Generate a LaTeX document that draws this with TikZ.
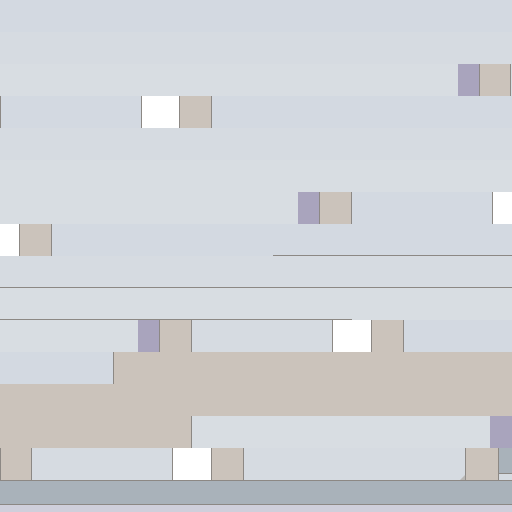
\documentclass[tikz,border=0pt]{standalone}
\definecolor{bgA}{HTML}{D3D9E1}
\definecolor{bgB}{HTML}{D6DBE1}
\definecolor{bgC}{HTML}{D8DDE2}
\definecolor{purp}{HTML}{A9A4BD}
\definecolor{beig}{HTML}{CBC3BB}
\definecolor{lnc}{HTML}{8C8884}
\definecolor{band}{HTML}{A9B2BA}
\definecolor{lav}{HTML}{CFCFDB}
\newcommand{\myrect}[5]{\fill[#1] (#2,#3) rectangle (#4,#5);}
\newcommand{\vl}[3]{\draw[sep] (#1,#2) -- (#1,#3);}
\newcommand{\hl}[3]{\draw[sep] (#1,#3) -- (#2,#3);}
\begin{document}
\begin{tikzpicture}[x=1pt,y=-1pt,sep/.style={draw=lnc,line width=1pt}]
\useasboundingbox (0,0) rectangle (512,512);
% row backgrounds
\myrect{bgA}{0}{0}{512}{32}
\myrect{bgB}{0}{32}{512}{64}
\myrect{bgC}{0}{64}{512}{96}
\myrect{bgA}{0}{96}{512}{128}
\myrect{bgB}{0}{128}{512}{160}
\myrect{bgC}{0}{160}{512}{192}
\myrect{bgC}{0}{192}{512}{224}
\myrect{bgA}{0}{224}{512}{256}
\myrect{bgB}{0}{256}{512}{288}
\myrect{bgC}{0}{288}{512}{320}
\myrect{bgC}{0}{320}{512}{352}
\myrect{bgA}{0}{352}{512}{384}
\myrect{beig}{0}{384}{512}{416}
\myrect{bgC}{0}{416}{512}{448}
\myrect{bgB}{0}{448}{512}{480}
\myrect{band}{0}{480}{512}{505}
\myrect{lav}{0}{505}{512}{512}
% row 2
\myrect{purp}{458}{64}{480}{96}
\myrect{beig}{480}{64}{511}{96}
\vl{479.5}{64}{96}\vl{510.5}{64}{96}
% row 3
\myrect{white}{141}{96}{180}{128}
\myrect{beig}{180}{96}{212}{128}
\vl{0.5}{96}{128}\vl{141.5}{96}{128}\vl{179.5}{96}{128}\vl{211.5}{96}{128}
% row 6
\myrect{purp}{298}{192}{320}{224}
\myrect{beig}{320}{192}{352}{224}
\myrect{bgA}{352}{192}{493}{224}
\myrect{white}{493}{192}{512}{224}
\vl{319.5}{192}{224}\vl{351.5}{192}{224}\vl{492.5}{192}{224}
% row 7
\myrect{white}{0}{224}{20}{256}
\myrect{beig}{20}{224}{52}{256}
\vl{19.5}{224}{256}\vl{51.5}{224}{256}
\hl{273}{512}{255.5}
% row 8, 9
\hl{0}{512}{287.5}
\hl{0}{352}{319.5}
% row 10
\myrect{purp}{138}{320}{160}{352}
\myrect{beig}{160}{320}{192}{352}
\myrect{bgB}{192}{320}{333}{352}
\myrect{white}{333}{320}{372}{352}
\myrect{beig}{372}{320}{404}{352}
\myrect{bgA}{404}{320}{512}{352}
\vl{159.5}{320}{352}\vl{191.5}{320}{352}\vl{332.5}{320}{352}\vl{371.5}{320}{352}\vl{403.5}{320}{352}
% row 11
\myrect{beig}{113}{352}{512}{384}
\vl{113.5}{352}{384}
% row 13
\myrect{beig}{0}{416}{192}{448}
\myrect{purp}{490}{416}{512}{448}
\vl{191.5}{416}{448}
% row 14
\myrect{beig}{0}{448}{32}{480}
\myrect{white}{173}{448}{212}{480}
\myrect{beig}{212}{448}{244}{480}
\myrect{beig}{466}{448}{499}{480}
\myrect{band}{499}{448}{512}{473}
\vl{0.5}{448}{480}\vl{31.5}{448}{480}\vl{172.5}{448}{480}\vl{211.5}{448}{480}\vl{243.5}{448}{480}\vl{465.5}{448}{480}\vl{498.5}{448}{480}
\draw[sep] (499,473.5) -- (512,473.5);
\fill[lnc!60] (460,480) -- (465,475) -- (465,480) -- cycle;
% bottom band
\hl{0}{512}{480.5}
\hl{0}{512}{504.5}
\end{tikzpicture}
\end{document}
